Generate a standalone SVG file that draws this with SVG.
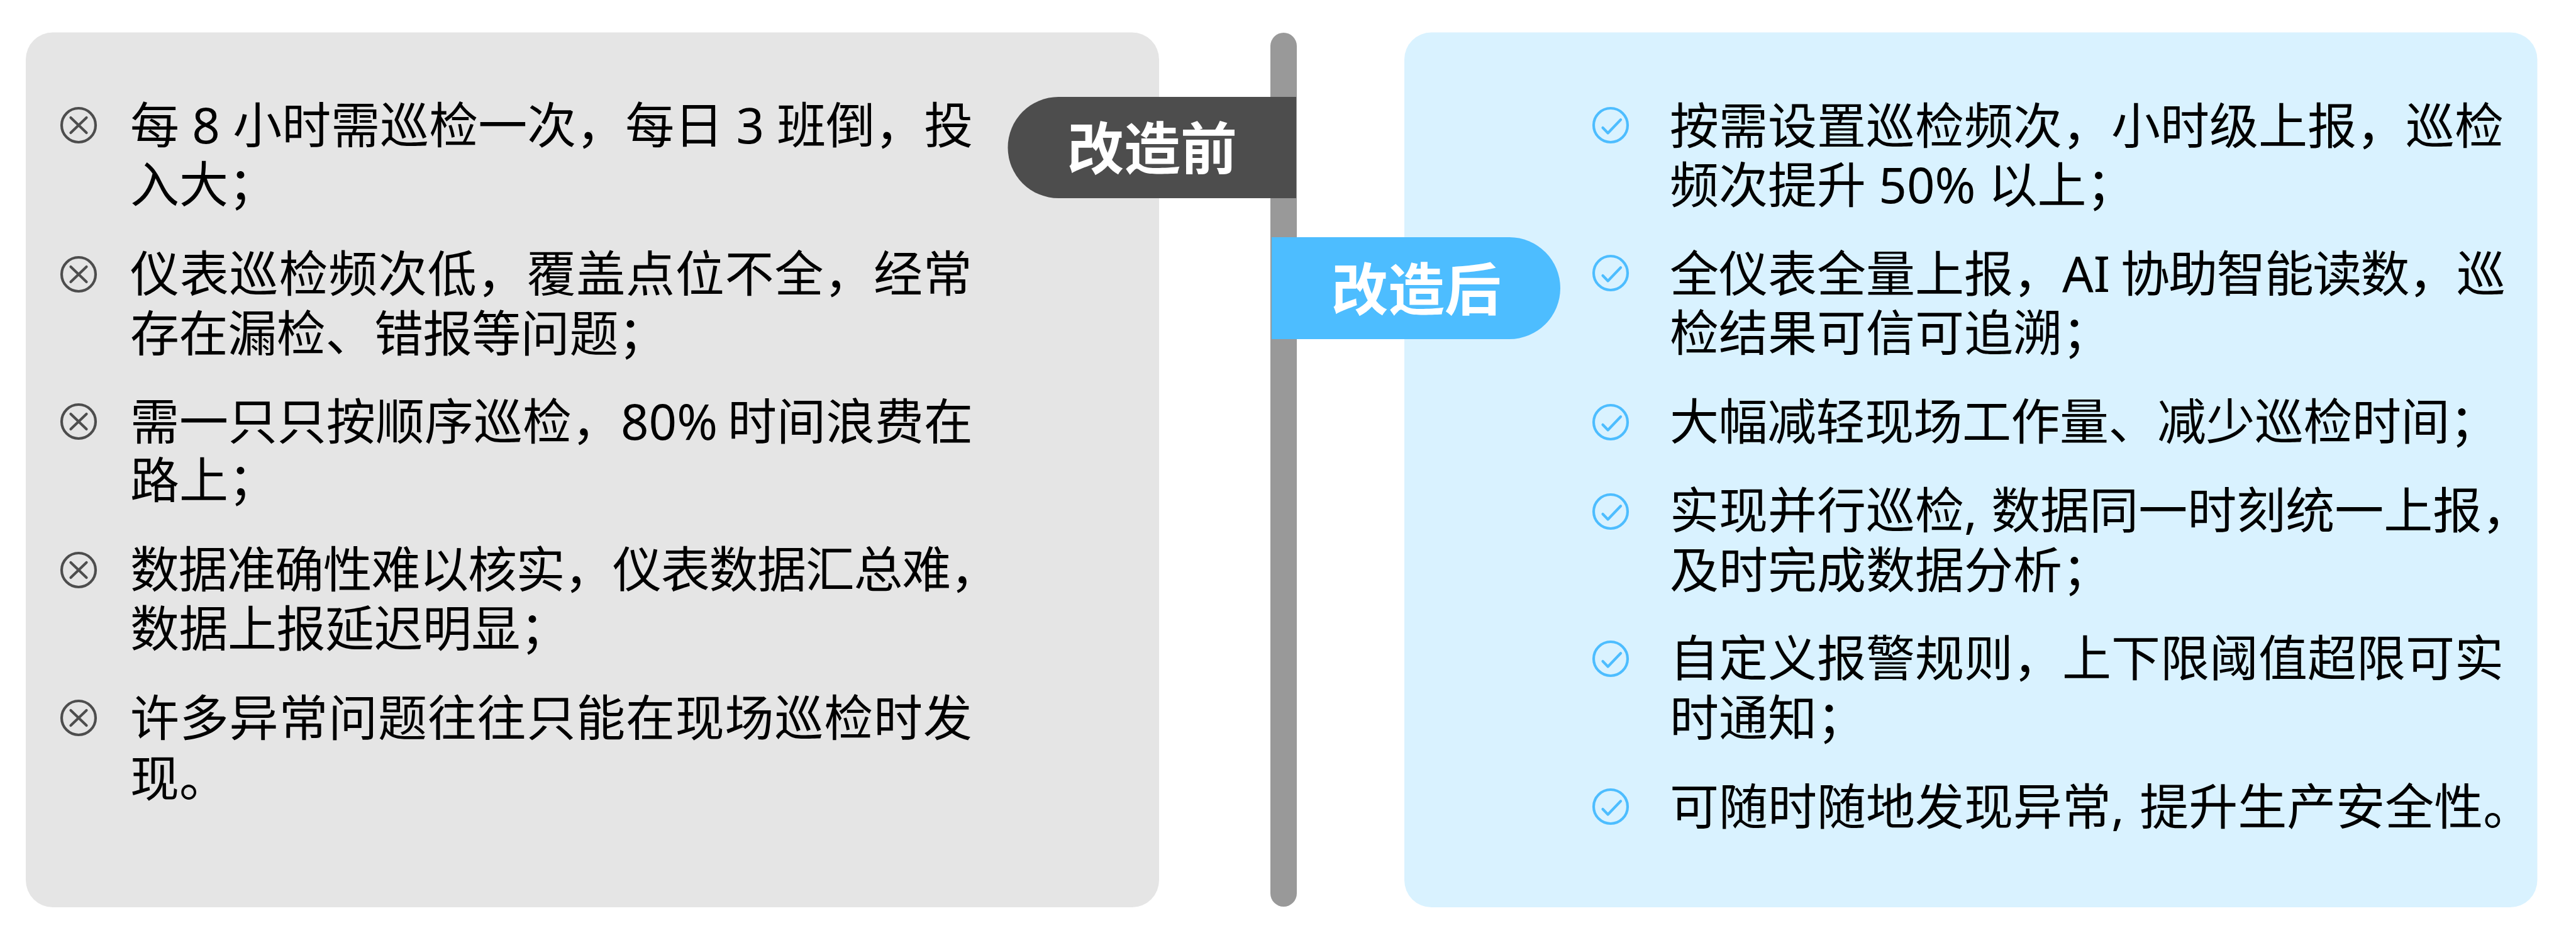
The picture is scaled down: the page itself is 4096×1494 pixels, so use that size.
<svg xmlns="http://www.w3.org/2000/svg" width="4096" height="1494" viewBox="0 0 4096 1494">
<style>
.t{font-family:"Noto Sans","Noto Sans CJK SC",sans-serif;font-size:78px;fill:#000}
.h{font-family:"Noto Sans CJK SC","Noto Sans",sans-serif;font-size:90px;font-weight:700;fill:#fff;text-anchor:middle}
.ic{fill:none;stroke-width:4.2;stroke-linecap:round;stroke-linejoin:round}
.x{stroke:#4d4d4d}.c{stroke:#4dbdff}
</style>
<defs>
<g id="xi" class="ic x"><circle r="27"/><path d="M-12.500-12L12.500 12M12.500-12L-12.500 12"/></g>
<g id="ci" class="ic c"><circle r="27"/><path d="M-12.500 4L-4.300 12.500L16-8.700"/></g>
</defs>
<rect width="4096" height="1494" fill="#fff"/>
<g id="panel-before"><rect x="41" y="51.500" width="1802" height="1390.500" rx="43" fill="#e5e5e5"/></g>
<g id="panel-after"><rect x="2233" y="51.500" width="1801.500" height="1390.500" rx="43" fill="#d9f2ff"/></g>
<g id="divider"><rect x="2020" y="52" width="42" height="1389" rx="21" fill="#999"/></g>
<g id="label-before"><path d="M2061 154V315H1683a80.500 80.500 0 0 1 0-161Z" fill="#4d4d4d"/><text class="h" x="1832" y="269">改造前</text></g>
<g id="label-after"><path d="M2022 377V539H2400a81 81 0 0 0 0-162Z" fill="#4dbdff"/><text class="h" x="2252" y="493">改造后</text></g>
<g id="before-list">
<use href="#xi" x="125" y="199"/><text class="t" x="207" y="228">每 8 小时需巡检一次，每日 3 班倒，投</text><text class="t" x="207" y="322">入大；</text>
<use href="#xi" x="125" y="436"/><text class="t" x="207" y="464" letter-spacing="0.8">仪表巡检频次低，覆盖点位不全，经常</text><text class="t" x="207" y="559" letter-spacing="-0.4">存在漏检、错报等问题；</text>
<use href="#xi" x="125" y="670"/><text class="t" x="207" y="699">需一只只按顺序巡检，80% <tspan x="1157">时间浪费在</tspan></text><text class="t" x="207" y="792">路上；</text>
<use href="#xi" x="125" y="906"/><text class="t" x="207" y="934" letter-spacing="-1.3">数据准确性难以核实，仪表数据汇总难，</text><text class="t" x="207" y="1028" letter-spacing="-0.5">数据上报延迟明显；</text>
<use href="#xi" x="125" y="1141"/><text class="t" x="207" y="1170" letter-spacing="0.8">许多异常问题往往只能在现场巡检时发</text><text class="t" x="207" y="1266">现。</text>
</g>
<g id="after-list">
<use href="#ci" x="2561" y="199"/><text class="t" x="2655" y="229">按需设置巡检频次，小时级上报，巡检</text><text class="t" x="2655" y="323">频次提升 50% 以上；</text>
<use href="#ci" x="2561" y="434"/><text class="t" x="2655" y="464">全仪表全量上报，AI <tspan x="3372" letter-spacing="-1.7">协助智能读数，巡</tspan></text><text class="t" x="2655" y="558">检结果可信可追溯；</text>
<use href="#ci" x="2561" y="671"/><text class="t" x="2655" y="699" letter-spacing="-0.5">大幅减轻现场工作量、减少巡检时间；</text>
<use href="#ci" x="2561" y="813"/><text class="t" x="2655" y="840">实现并行巡检, <tspan dx="2">数据同一时刻统一上报，</tspan></text><text class="t" x="2655" y="935">及时完成数据分析；</text>
<use href="#ci" x="2561" y="1047"/><text class="t" x="2655" y="1075">自定义报警规则，上下限阈值超限可实</text><text class="t" x="2655" y="1170">时通知；</text>
<use href="#ci" x="2561" y="1282"/><text class="t" x="2655" y="1311">可随时随地发现异常, <tspan dx="4">提升生产安全性。</tspan></text>
</g>
</svg>
